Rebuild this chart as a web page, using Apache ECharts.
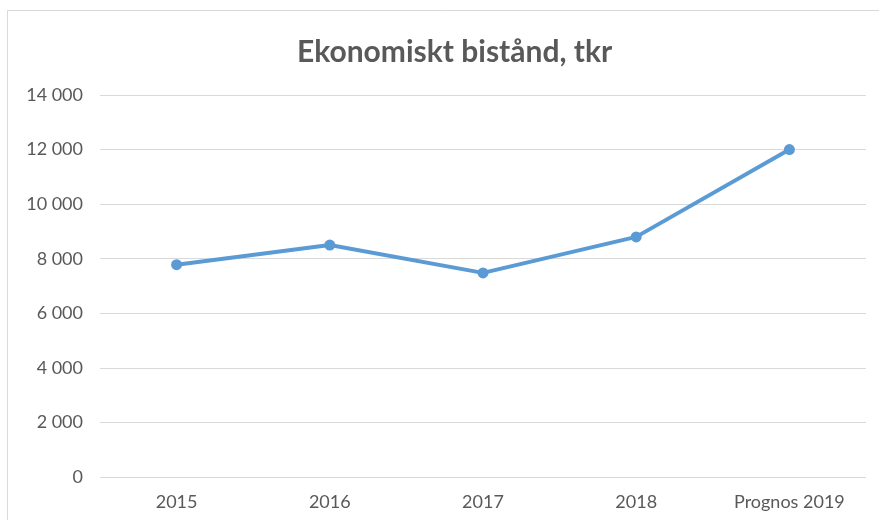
<!DOCTYPE html>
<html><head><meta charset="utf-8">
<script src="https://cdn.jsdelivr.net/npm/echarts@6/dist/echarts.min.js"></script>
<style>html,body{margin:0;padding:0;background:#fff}#c{width:879px;height:520px}</style>
</head><body><div id="c"></div>
<script>
const title = "Ekonomiskt bistånd, tkr";
const categories = ["2015", "2016", "2017", "2018", "Prognos 2019"];
const values = [7780, 8500, 7480, 8800, 12000];
const yMin = 0, yMax = 14000, yStep = 2000;

const chart = echarts.init(document.getElementById('c'));
chart.setOption({
  animation: false,
  backgroundColor: '#fff',
  graphic: [{
    type: 'rect', shape: {x: 7.5, y: 10.5, width: 1000, height: 1000},
    style: {fill: 'none', stroke: '#d9d9d9', lineWidth: 1}, silent: true
  }],
  title: {
    text: title, left: 292, top: 32,
    textStyle: {fontFamily: 'Lato', fontWeight: 'bold', fontSize: 30, color: '#595959'}
  },
  grid: {left: 100, right: 13, top: 95, bottom: 43},
  xAxis: {
    type: 'category', data: categories, boundaryGap: true,
    axisLine: {show: false}, axisTick: {show: false},
    axisLabel: {color: '#595959', fontFamily: 'Lato', fontSize: 18, margin: 16}
  },
  yAxis: {
    type: 'value', min: yMin, max: yMax, interval: yStep,
    axisLine: {show: false}, axisTick: {show: false},
    splitLine: {lineStyle: {color: '#d9d9d9', width: 1}},
    axisLabel: {color: '#595959', fontFamily: 'Lato', fontSize: 18, margin: 17,
      formatter: v => String(v).replace(/\B(?=(\d{3})+(?!\d))/g, ' ')}
  },
  series: [{
    type: 'line', data: values,
    lineStyle: {color: '#5b9bd5', width: 4},
    itemStyle: {color: '#5b9bd5'},
    symbol: 'circle', symbolSize: 11
  }]
});
</script></body></html>
